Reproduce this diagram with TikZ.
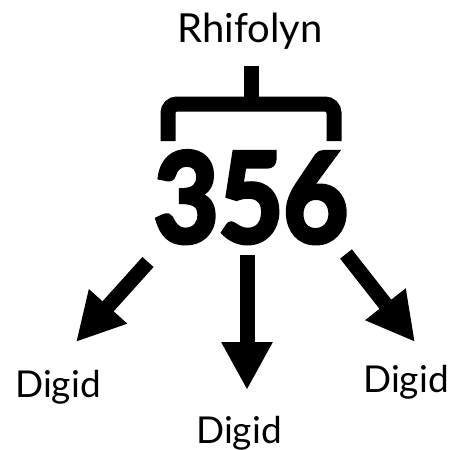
\documentclass[tikz,border=0pt]{standalone}
\usepackage{fontspec}
\setmainfont{Lato}
\newfontfamily\numfont{Lato}[FakeBold=4]
\usetikzlibrary{arrows.meta,positioning}

\tikzset{
  lbl/.style={font=\fontsize{37}{40}\selectfont, inner sep=0pt, anchor=base},
  brace/.style={line width=15pt, rounded corners=9pt},
  arr/.style={line width=15pt, -{Triangle[width=48pt,length=48pt]}},
}

\begin{document}
\begin{tikzpicture}[x=1pt,y=-1pt]
  \useasboundingbox (0,0) rectangle (456,450);
  \node [lbl, font=\fontsize{40}{44}\selectfont] (top) at (250,42) {Rhifolyn};
  \node [inner sep=0pt, anchor=base, font=\numfont\bfseries\fontsize{124}{130}\selectfont, xscale=0.9] (num) at (251,242) {356};
  % brace
  \coordinate (m) at (251,104);
  \coordinate (u) at (251,66);
  \draw [brace] (168,141) |- (m) -| (334,141);
  \draw [line width=15pt] (m) -- (u);
  % arrows
  \coordinate (s1) at (148,262);
  \coordinate (s2) at (247,255);
  \coordinate (s3) at (346,254);
  \coordinate (t1) at (76,342);
  \coordinate (t2) at (247,390);
  \coordinate (t3) at (415,342);
  \draw [arr] (s1) -- (t1);
  \draw [arr] (s2) -- (t2);
  \draw [arr] (s3) -- (t3);
  \node [lbl] (d1) at (58,397) {Digid};
  \node [lbl] (d2) at (239,443) {Digid};
  \node [lbl] (d3) at (406,392) {Digid};
\end{tikzpicture}
\end{document}
